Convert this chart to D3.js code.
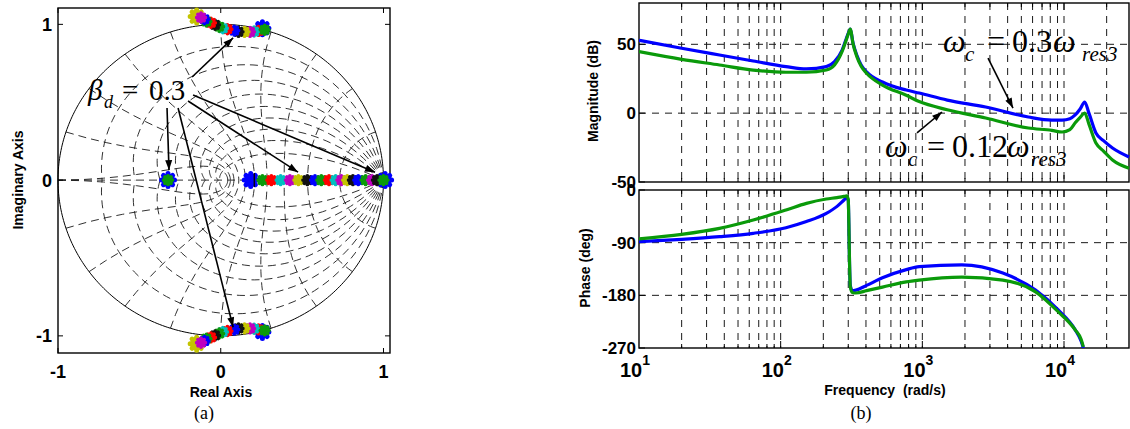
<!DOCTYPE html>
<html><head><meta charset="utf-8">
<script src="https://cdn.jsdelivr.net/npm/d3@7"></script>
<style>body{margin:0;background:#fff}svg{display:block}</style>
</head><body>
<svg id="c" width="1130" height="429"></svg>
<script>
// ===================== DATA =====================
// (a) z-plane
const zTicks = [-1, 0, 1];
const zetaGrid = [0.1, 0.2, 0.3, 0.4, 0.5, 0.6, 0.7, 0.8, 0.9];
const wnGrid = [0.1, 0.2, 0.3, 0.4, 0.5, 0.6, 0.7, 0.8, 0.9, 1.0]; // multiples of pi/T
// small pole markers on the real axis
const realPoleRe = [0.256, 0.311, 0.368, 0.425, 0.477, 0.532, 0.579, 0.618, 0.665, 0.706, 0.741, 0.777, 0.812, 0.845, 0.89, 0.93, 0.96];
const realPoleCol = ["g","r","c","m","y","k","b","g","r","c","m","y","k","b","g","m","k"];
// small pole markers of the upper complex branch (lower branch is the conjugate)
const cplxPoleRe = [0.232, 0.205, 0.18, 0.146, 0.109, 0.083, 0.041, 0.013, -0.01, -0.035, -0.06, -0.088, -0.1, -0.121];
const cplxPoleIm = [0.958, 0.954, 0.952, 0.952, 0.952, 0.96, 0.969, 0.975, 0.985, 0.997, 1.01, 1.018, 1.033, 1.044];
const cplxPoleCol = ["r","c","m","y","k","b","r","c","g","k","r","g","b","m"];
// big end markers
const bigRe  = [0.184, 1.01, -0.324, 0.256, 0.256, -0.148, -0.148];
const bigIm  = [0, 0, 0, 0.975, -0.975, 1.05, -1.05];
const bigCol = ["b","b","b","b","b","y","y"];
// inner markers drawn on top of big ones
const innerRe  = [1.0, -0.324, 0.27, 0.27];
const innerIm  = [0, 0, 0.965, -0.965];
const innerCol = ["g","g","g","g"];
// annotation arrows (from -> to, data coords)
const betaArrowFrom = [[-0.176, 0.662], [-0.33, 0.463], [-0.262, 0.463], [-0.201, 0.508], [-0.17, 0.547]];
const betaArrowTo   = [[0.076, 0.913], [-0.318, 0.064], [0.076, -0.945], [0.475, 0.051], [0.948, 0.051]];

// (b) Bode
const magFreq = [10, 20, 37, 64, 109, 152, 210, 240, 272, 288, 300, 310, 324, 345, 370, 404, 523, 770, 950, 1500, 2800, 5600, 8200, 9700, 11000, 12000, 13000, 14000, 15000, 16800, 19000, 22000, 28760];
const magBlue = [52.9, 47.1, 42.2, 37.9, 33.8, 32.1, 33.8, 37.4, 46, 53, 58, 61.1, 51, 42, 35, 30, 22.6, 16.8, 14.6, 9.5, 4.5, -2.8, -5, -5, -4, -1.3, 3, 8.1, 0, -14.4, -20, -25.3, -31.8];
const magGreen = [44.7, 39.1, 35, 31.3, 29.7, 29.7, 31.3, 35, 45, 52, 57.5, 61.1, 50.5, 41, 34, 29, 20.4, 13, 8.4, 2.5, -3.5, -10.8, -12.5, -13.7, -12, -7, -3, 0.1, -8, -21.7, -27.5, -34, -40];
const phFreq = [10, 20, 37, 64, 109, 152, 210, 250, 280, 292, 300, 303, 306, 310, 320, 340, 404, 523, 770, 950, 1900, 3700, 6300, 9100, 12000, 13200, 13700];
const phBlue = [-88.3, -84.4, -79.8, -74, -64.4, -54, -40, -28, -17, -13, -18, -60, -120, -163, -172, -171, -163, -150, -136, -131, -128, -142, -171, -205, -239, -258, -270];
const phGreen = [-83.7, -75.8, -65.5, -51.3, -34.2, -22.8, -15.4, -13, -11, -10, -16, -60, -120, -165, -175, -176, -172, -166, -157, -154, -149, -154, -174, -208, -239, -255, -268];
const magTicks = [-50, 0, 50];
const phTicks = [-270, -180, -90, 0];
const decadeTicks = [10, 100, 1000, 10000];
const decadeExp = ["1", "2", "3", "4"];
// annotation arrows for (b) (freq, dB)
const wcArrowFrom = [[2908, 40], [917, -14.4]];
const wcArrowTo   = [[4365, 3.7], [1377, 0.84]];

// ===================== DRAW =====================
const SANS = "'Liberation Sans', Arial, sans-serif";
const SERIF = "'Liberation Serif', 'Times New Roman', serif";
const COL = {b:"#0000ff", g:"#0a9a0a", r:"#ff0000", c:"#00bfbf", m:"#bf00bf", y:"#c4c400", k:"#111"};
const svg = d3.select("#c");

function arrow(g, x1, y1, x2, y2, len = 10, half = 3.5) {
  g.append("line").attr("x1", x1).attr("y1", y1).attr("x2", x2).attr("y2", y2)
    .attr("stroke", "#000").attr("stroke-width", 1.6);
  const a = Math.atan2(y2 - y1, x2 - x1);
  const bx = x2 - len * Math.cos(a), by = y2 - len * Math.sin(a);
  const px = -Math.sin(a) * half, py = Math.cos(a) * half;
  g.append("path").attr("d", `M${x2},${y2}L${bx + px},${by + py}L${bx - px},${by - py}Z`).attr("fill", "#000");
}

// ---------- (a) ----------
const xz = d3.scaleLinear().domain([-1, 1.04]).range([58, 390]);
const yz = d3.scaleLinear().domain([-1.11, 1.105]).range([353, 8]);
const gA = svg.append("g");
const zl = d3.line().x(d => xz(d[0])).y(d => yz(d[1]));
const gridStyle = s => s.attr("fill", "none").attr("stroke", "#1a1a1a").attr("stroke-width", 0.9).attr("stroke-dasharray", "8,5");

zetaGrid.forEach(z => {
  const m = Math.tan(Math.asin(z));
  const pts = d3.range(0, 61).map(i => { const t = Math.PI * i / 60, r = Math.exp(-m * t); return [r * Math.cos(t), r * Math.sin(t)]; });
  gA.append("path").attr("d", zl(pts)).call(gridStyle);
  gA.append("path").attr("d", zl(pts.map(p => [p[0], -p[1]]))).call(gridStyle);
});
wnGrid.forEach(w => {
  const wn = w * Math.PI;
  const pts = d3.range(0, 31).map(i => { const th = Math.PI / 2 + Math.PI / 2 * i / 30, r = Math.exp(wn * Math.cos(th)), b = wn * Math.sin(th); return [r * Math.cos(b), r * Math.sin(b)]; });
  gA.append("path").attr("d", zl(pts)).call(gridStyle);
  gA.append("path").attr("d", zl(pts.map(p => [p[0], -p[1]]))).call(gridStyle);
});
gA.append("line").attr("x1", xz(-1)).attr("x2", xz(1)).attr("y1", yz(0)).attr("y2", yz(0)).call(gridStyle);
// unit circle
gA.append("path").attr("d", zl(d3.range(0, 361).map(i => [Math.cos(i * Math.PI / 180), Math.sin(i * Math.PI / 180)])))
  .attr("fill", "none").attr("stroke", "#000").attr("stroke-width", 1);

// box & ticks
gA.append("rect").attr("x", 58).attr("y", 8).attr("width", 332).attr("height", 345)
  .attr("fill", "none").attr("stroke", "#000").attr("stroke-width", 1.4);
zTicks.forEach(t => {
  gA.append("line").attr("x1", xz(t)).attr("x2", xz(t)).attr("y1", 353).attr("y2", 348).attr("stroke", "#000");
  gA.append("line").attr("x1", xz(t)).attr("x2", xz(t)).attr("y1", 8).attr("y2", 13).attr("stroke", "#000");
  gA.append("line").attr("y1", yz(t)).attr("y2", yz(t)).attr("x1", 58).attr("x2", 63).attr("stroke", "#000");
  gA.append("line").attr("y1", yz(t)).attr("y2", yz(t)).attr("x1", 390).attr("x2", 385).attr("stroke", "#000");
  gA.append("text").attr("x", xz(t)).attr("y", 378).attr("text-anchor", "middle")
    .attr("font-family", SANS).attr("font-weight", "bold").attr("font-size", 18).text(t);
  gA.append("text").attr("x", 52).attr("y", yz(t)).attr("dy", "0.36em").attr("text-anchor", "end")
    .attr("font-family", SANS).attr("font-weight", "bold").attr("font-size", 18).text(t);
});
gA.append("text").attr("x", 221).attr("y", 397).attr("text-anchor", "middle")
  .attr("font-family", SANS).attr("font-weight", "bold").attr("font-size", 14).text("Real Axis");
gA.append("text").attr("transform", "translate(23,180) rotate(-90)").attr("text-anchor", "middle")
  .attr("font-family", SANS).attr("font-weight", "bold").attr("font-size", 14).text("Imaginary Axis");
gA.append("text").attr("x", 204).attr("y", 419).attr("text-anchor", "middle")
  .attr("font-family", SERIF).attr("font-size", 18).text("(a)");

// markers
function star(r) { const a = r * 0.7071; return `M${-r},0L${r},0M0,${-r}L0,${r}M${-a},${-a}L${a},${a}M${-a},${a}L${a},${-a}`; }
function marker(re, im, c, r, w) {
  gA.append("path").attr("d", star(r)).attr("transform", `translate(${xz(re)},${yz(im)})`)
    .attr("fill", "none").attr("stroke", COL[c]).attr("stroke-width", w).attr("stroke-linecap", "round");
}
bigRe.forEach((re, i) => marker(re, bigIm[i], bigCol[i], 6.5, 5));
gA.append("line").attr("x1", xz(0.206)).attr("x2", xz(0.206)).attr("y1", yz(0) - 7).attr("y2", yz(0) + 7).attr("stroke", "#000").attr("stroke-width", 1.3);
realPoleRe.forEach((re, i) => marker(re, 0, realPoleCol[i], 4.3, 3.8));
cplxPoleRe.forEach((re, i) => { marker(re, cplxPoleIm[i], cplxPoleCol[i], 4.3, 3.8); marker(re, -cplxPoleIm[i], cplxPoleCol[i], 4.3, 3.8); });
innerRe.forEach((re, i) => marker(re, innerIm[i], innerCol[i], 4.3, 3.8));

// beta label & arrows
betaArrowFrom.forEach((p, i) => arrow(gA, xz(p[0]), yz(p[1]), xz(betaArrowTo[i][0]), yz(betaArrowTo[i][1])));
const bt = gA.append("text").attr("font-family", SERIF).attr("font-size", 29);
bt.append("tspan").attr("x", 88).attr("y", 100).attr("font-style", "italic").text("β");
bt.append("tspan").attr("x", 104).attr("y", 108).attr("font-style", "italic").attr("font-size", 18).text("d");
bt.append("tspan").attr("x", 122).attr("y", 100).text("=");
bt.append("tspan").attr("x", 149).attr("y", 100).text("0.3");

// ---------- (b) ----------
const xf = d3.scaleLog().domain([10, 28760]).range([639, 1129]);
const ym = d3.scaleLinear().domain([-50, 80]).range([182, 3]);
const yp = d3.scaleLinear().domain([-270, 0]).range([348, 190]);
const gB = svg.append("g");
const minorF = [];
[10, 100, 1000, 10000].forEach(d => { for (let k = 1; k <= 9; k++) { const f = d * k; if (f > 10 && f < 28760) minorF.push(f); } });
const bgrid = s => s.attr("stroke", "#1a1a1a").attr("stroke-width", 1).attr("stroke-dasharray", "7,6");

function panel(y, ticks, gridVals, top, bottom) {
  minorF.forEach(f => gB.append("line").attr("x1", xf(f)).attr("x2", xf(f)).attr("y1", top).attr("y2", bottom).call(bgrid));
  gridVals.forEach(v => gB.append("line").attr("x1", 639).attr("x2", 1129).attr("y1", y(v)).attr("y2", y(v)).call(bgrid));
  minorF.forEach(f => {
    const L = decadeTicks.includes(f) ? 7 : 4;
    gB.append("line").attr("x1", xf(f)).attr("x2", xf(f)).attr("y1", bottom).attr("y2", bottom - L).attr("stroke", "#000");
    gB.append("line").attr("x1", xf(f)).attr("x2", xf(f)).attr("y1", top).attr("y2", top + L).attr("stroke", "#000");
  });
  ticks.forEach(t => {
    gB.append("line").attr("x1", 639).attr("x2", 645).attr("y1", y(t)).attr("y2", y(t)).attr("stroke", "#000");
    gB.append("text").attr("x", 636).attr("y", y(t)).attr("dy", "0.36em").attr("text-anchor", "end")
      .attr("font-family", SANS).attr("font-weight", "bold").attr("font-size", 17).text(t);
  });
  gB.append("rect").attr("x", 639).attr("y", top).attr("width", 490).attr("height", bottom - top)
    .attr("fill", "none").attr("stroke", "#000").attr("stroke-width", 1.4);
}
panel(ym, magTicks, [0, 50], 3, 182);
panel(yp, phTicks, [-90, -180], 190, 348);

svg.append("defs").html('<clipPath id="cm"><rect x="639" y="3" width="491" height="179"/></clipPath><clipPath id="cp"><rect x="639" y="190" width="491" height="158"/></clipPath>');
const lm = d3.line().curve(d3.curveMonotoneX).x(d => xf(d[0])).y(d => ym(d[1]));
const lp = d3.line().curve(d3.curveMonotoneX).x(d => xf(d[0])).y(d => yp(d[1]));
const lineStyle = (s, c) => s.attr("fill", "none").attr("stroke", c).attr("stroke-width", 3.2).attr("stroke-linejoin", "round");
gB.append("path").attr("clip-path", "url(#cm)").attr("d", lm(magFreq.map((f, i) => [f, magBlue[i]]))).call(lineStyle, COL.b);
gB.append("path").attr("clip-path", "url(#cm)").attr("d", lm(magFreq.map((f, i) => [f, magGreen[i]]))).call(lineStyle, COL.g);
gB.append("path").attr("clip-path", "url(#cp)").attr("d", lp(phFreq.map((f, i) => [f, phBlue[i]]))).call(lineStyle, COL.b);
gB.append("path").attr("clip-path", "url(#cp)").attr("d", lp(phFreq.map((f, i) => [f, phGreen[i]]))).call(lineStyle, COL.g);

decadeTicks.forEach((f, i) => {
  const t = gB.append("text").attr("x", xf(f) - 4).attr("y", 377).attr("text-anchor", "middle")
    .attr("font-family", SANS).attr("font-weight", "bold").attr("font-size", 20);
  t.append("tspan").text("10");
  t.append("tspan").attr("dy", -12).attr("font-size", 14).text(decadeExp[i]);
});
gB.append("text").attr("x", 885).attr("y", 395).attr("text-anchor", "middle").style("white-space", "pre")
  .attr("font-family", SANS).attr("font-weight", "bold").attr("font-size", 14).text("Frequency  (rad/s)");
gB.append("text").attr("x", 861).attr("y", 419).attr("text-anchor", "middle")
  .attr("font-family", SERIF).attr("font-size", 18).text("(b)");
gB.append("text").attr("transform", "translate(598,91) rotate(-90)").attr("text-anchor", "middle")
  .attr("font-family", SANS).attr("font-weight", "bold").attr("font-size", 14).text("Magnitude (dB)");
gB.append("text").attr("transform", "translate(590,268) rotate(-90)").attr("text-anchor", "middle")
  .attr("font-family", SANS).attr("font-weight", "bold").attr("font-size", 14).text("Phase (deg)");

wcArrowFrom.forEach((p, i) => arrow(gB, xf(p[0]), ym(p[1]), xf(wcArrowTo[i][0]), ym(wcArrowTo[i][1])));
function wcLabel(xs, base, num) {
  const t = gB.append("text").attr("font-family", SERIF).attr("font-size", 32);
  t.append("tspan").attr("x", xs[0]).attr("y", base).attr("font-style", "italic").text("ω");
  t.append("tspan").attr("x", xs[1]).attr("y", base + 9).attr("font-style", "italic").attr("font-size", 21).text("c");
  t.append("tspan").attr("x", xs[2]).attr("y", base).text("=");
  t.append("tspan").attr("x", xs[3]).attr("y", base).text(num);
  t.append("tspan").attr("x", xs[4]).attr("y", base).attr("font-style", "italic").text("ω");
  t.append("tspan").attr("x", xs[5]).attr("y", base + 9).attr("font-style", "italic").attr("font-size", 21).text("res3");
}
wcLabel([943, 965, 987, 1012, 1053, 1082], 52, "0.3");
wcLabel([885, 908, 927, 952, 1007, 1031], 157, "0.12");
</script>
</body></html>
